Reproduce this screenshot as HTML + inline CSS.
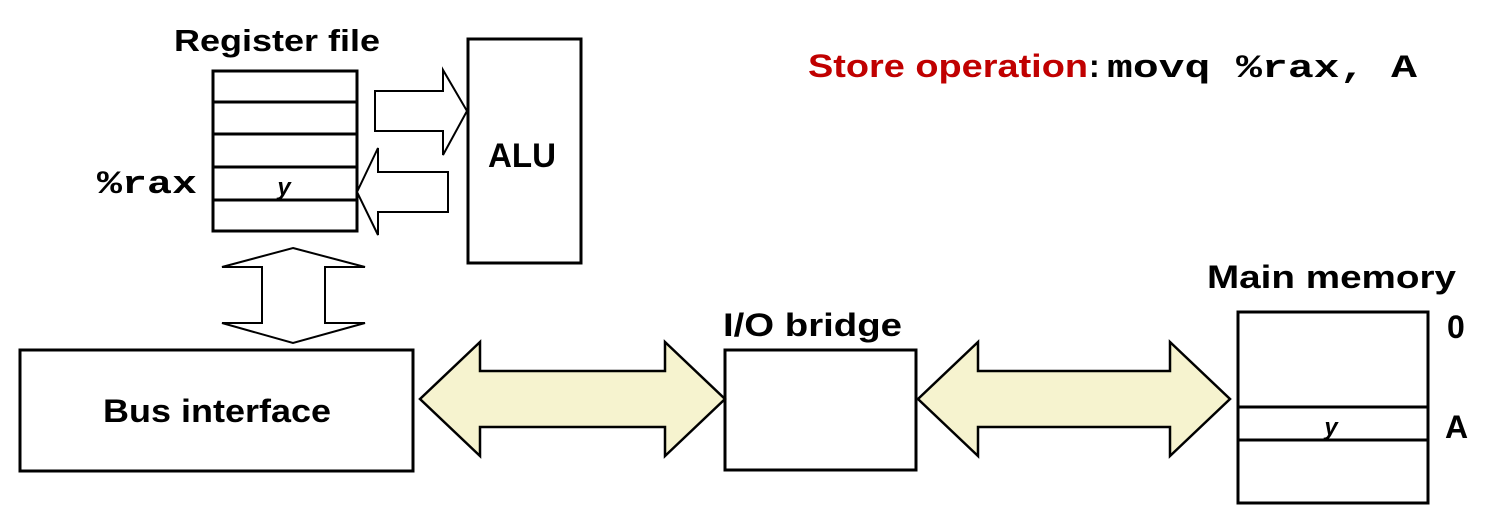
<!DOCTYPE html>
<html><head><meta charset="utf-8"><style>
html,body{margin:0;padding:0;background:#fff;}
svg{display:block}
.t{font-family:"Liberation Sans",sans-serif;font-weight:bold;fill:#000}
.m{font-family:"Liberation Mono",monospace;font-weight:bold;fill:#000}
</style></head><body>
<svg width="1499" height="521" viewBox="0 0 1499 521" xmlns="http://www.w3.org/2000/svg">
<g fill="none" stroke="#000" stroke-width="3">
<rect x="213" y="71" width="144" height="160" fill="#fff"/>
<line x1="213" y1="102" x2="357" y2="102"/>
<line x1="213" y1="134" x2="357" y2="134"/>
<line x1="213" y1="167" x2="357" y2="167"/>
<line x1="213" y1="200" x2="357" y2="200"/>
<rect x="468" y="39" width="113" height="224" fill="#fff"/>
<rect x="20" y="350" width="393" height="121" fill="#fff"/>
<rect x="725" y="350" width="191" height="120" fill="#fff"/>
<rect x="1238" y="312" width="190" height="191" fill="#fff"/>
<rect x="1238" y="407" width="190" height="33" fill="#fff"/>
</g>
<g stroke="#000" stroke-width="2" fill="#fff">
<polygon points="375,91 443,91 443,70 467,111 443,155 443,131 375,131"/>
<polygon points="448,172 378,172 378,148 357,192 378,235 378,212 448,212"/>
<polygon points="293,248 365,267 325,267 325,323 365,323 293,343 222,323 262,323 262,267 222,267"/>
</g>
<g stroke="#000" stroke-width="2.5" fill="#f6f3cf">
<polygon points="420,399 480,342 480,371 665,371 665,342 725,399 665,456 665,427 480,427 480,456"/>
<polygon points="918,399 978,342 978,371 1170,371 1170,342 1230,399 1170,456 1170,427 978,427 978,456"/>
</g>
<text class="t" x="174" y="51" font-size="31" textLength="206" lengthAdjust="spacingAndGlyphs">Register file</text>
<text class="m" x="97" y="193" font-size="32" textLength="100" lengthAdjust="spacingAndGlyphs">%rax</text>
<text class="t" x="284" y="195" font-size="24" font-style="italic" text-anchor="middle">y</text>
<text class="t" x="488" y="167" font-size="34" textLength="68" lengthAdjust="spacingAndGlyphs">ALU</text>
<text class="t" x="808" y="77" font-size="32" fill="#c00000" style="fill:#c00000" textLength="280" lengthAdjust="spacingAndGlyphs">Store operation</text>
<text class="t" x="1089" y="77" font-size="32">:</text>
<text class="m" x="1107" y="77" font-size="32" textLength="310" lengthAdjust="spacingAndGlyphs">movq %rax, A</text>
<text class="t" x="1207" y="288" font-size="32" textLength="249" lengthAdjust="spacingAndGlyphs">Main memory</text>
<text class="t" x="1447" y="338" font-size="32">0</text>
<text class="t" x="1445" y="438" font-size="32">A</text>
<text class="t" x="1331" y="435" font-size="24" font-style="italic" text-anchor="middle">y</text>
<text class="t" x="723" y="336" font-size="32" textLength="179" lengthAdjust="spacingAndGlyphs">I/O bridge</text>
<text class="t" x="103" y="422" font-size="32" textLength="228" lengthAdjust="spacingAndGlyphs">Bus interface</text>
</svg>
</body></html>
